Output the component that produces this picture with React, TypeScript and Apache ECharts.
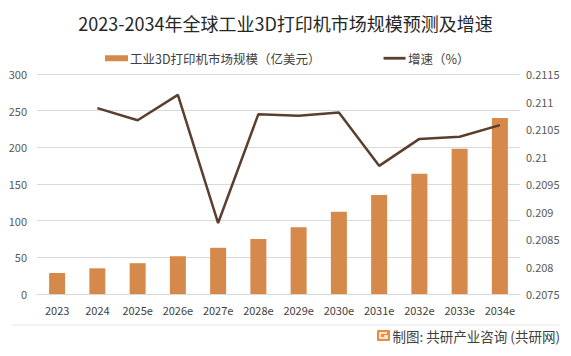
import React, { useEffect, useRef } from "react";
import * as echarts from "echarts";

const categories = ["2023", "2024", "2025e", "2026e", "2027e", "2028e", "2029e", "2030e", "2031e", "2032e", "2033e", "2034e"];
const marketSize = [28.6, 35, 42, 51.5, 63, 75, 91, 112, 135, 164, 198, 240];
const growth = [null, 0.21088, 0.21066, 0.21112, 0.20879, 0.21077, 0.21074, 0.2108, 0.20983, 0.21032, 0.21036, 0.21057];
const barName = "工业3D打印机市场规模（亿美元）";
const lineName = "增速（%）";
const titleText = "2023-2034年全球工业3D打印机市场规模预测及增速";
const sourceText = "制图: 共研产业咨询 (共研网)";

export default function App() {
  const ref = useRef<HTMLDivElement>(null);
  useEffect(() => {
    if (!ref.current) return;
    document.body.style.margin = "0";
    const chart = echarts.init(ref.current, null, { renderer: "svg" });
    const font = "'Microsoft YaHei', 'Noto Sans CJK SC', sans-serif";
    chart.setOption({
      animation: false,
      backgroundColor: "#ffffff",
      title: {
        text: titleText,
        left: "center",
        top: 9,
        textStyle: { fontSize: 18, fontWeight: "normal", color: "#262626", fontFamily: font },
      },
      legend: {
        top: 47,
        left: 100,
        itemGap: 63,
        itemWidth: 23,
        itemHeight: 6,
        textStyle: { fontSize: 12.5, color: "#404040", fontFamily: font, padding: [0, 0, 0, -3] },
        data: [
          { name: barName, icon: "rect" },
          {
            name: lineName,
            icon: "path://M0,0 M0,6 M0,1.6 H22 V4.4 H0 Z",
            itemStyle: { color: "#5a3e2e" },
          },
        ],
      },
      grid: { left: 37, right: 51, top: 74, bottom: 62, containLabel: false },
      xAxis: {
        type: "category",
        data: categories,
        axisTick: { show: false },
        axisLine: { show: true, lineStyle: { color: "#d9d9d9" } },
        axisLabel: { color: "#404040", fontSize: 11, margin: 10, fontFamily: font },
      },
      yAxis: [
        {
          type: "value",
          min: 0,
          max: 300,
          interval: 50,
          axisLine: { show: false },
          axisTick: { show: false },
          axisLabel: { color: "#595959", fontSize: 11, margin: 10, fontFamily: font },
          splitLine: { lineStyle: { color: "#d9d9d9" } },
        },
        {
          type: "value",
          min: 0.2075,
          max: 0.2115,
          interval: 0.0005,
          axisLine: { show: false },
          axisTick: { show: false },
          splitLine: { show: false },
          axisLabel: {
            color: "#595959",
            fontSize: 11,
            margin: 6,
            fontFamily: font,
            formatter: (v: number) => String(parseFloat(v.toFixed(4))),
          },
        },
      ],
      series: [
        {
          name: barName,
          type: "bar",
          data: marketSize,
          barWidth: 16,
          itemStyle: { color: "#d5894b" },
        },
        {
          name: lineName,
          type: "line",
          yAxisIndex: 1,
          data: growth,
          symbol: "none",
          lineStyle: { color: "#5a3e2e", width: 2.5 },
          itemStyle: { color: "#5a3e2e" },
        },
      ],
      graphic: [
        {
          type: "line",
          shape: { x1: 12, y1: 325, x2: 559, y2: 325 },
          style: { stroke: "#e6e6e6", lineWidth: 1 },
        },
        {
          type: "rect",
          shape: { x: 377, y: 330, width: 13, height: 11, r: 1 },
          style: { fill: "#f08a3c" },
        },
        {
          type: "polyline",
          shape: { points: [[387, 333], [380, 333], [380, 338], [387, 338], [387, 336], [384, 336]] },
          style: { stroke: "#ffffff", lineWidth: 1.5, fill: null },
        },
        {
          type: "text",
          x: 560,
          y: 336,
          style: {
            text: sourceText,
            fontSize: 13.5,
            fill: "#404040",
            fontFamily: font,
            align: "right",
            verticalAlign: "middle",
          },
        },
      ],
    });
    return () => chart.dispose();
  }, []);
  return <div ref={ref} style={{ width: 571, height: 356 }} />;
}
